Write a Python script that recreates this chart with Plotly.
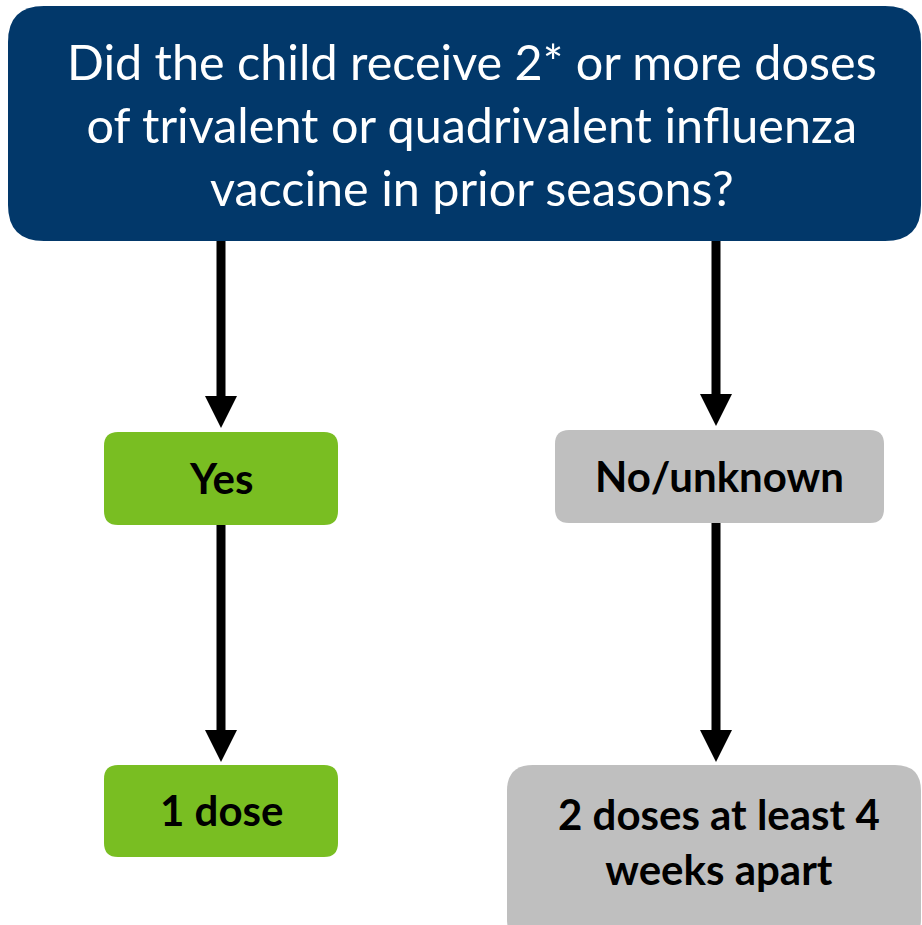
import plotly.graph_objects as go

# ---- content ----
question_lines = ["Did the child receive 2* or more doses",
                  "of trivalent or quadrivalent influenza",
                  "vaccine in prior seasons?"]
answer_labels = ["Yes", "No/unknown"]
outcome_labels = [["1 dose"], ["2 doses at least 4", "weeks apart"]]

# ---- layout geometry (page pixels, y downward) ----
W, H = 922, 925
NAVY = "#02386A"
GREEN = "#79BE22"
GRAY = "#BFBFBF"

top_box = dict(x0=8, y0=6, x1=921, y1=241, r=36, fill=NAVY)
answer_boxes = [dict(x0=104, y0=432, x1=338, y1=525, r=14, fill=GREEN),
                dict(x0=555, y0=430, x1=884, y1=523, r=14, fill=GRAY)]
outcome_boxes = [dict(x0=104, y0=765, x1=338, y1=857, r=14, fill=GREEN),
                 dict(x0=507, y0=765, x1=921, y1=945, r=26, fill=GRAY)]
arrow_x = [221, 716]


def rrect(b):
    x0, y0, x1, y1, r = b["x0"], b["y0"], b["x1"], b["y1"], b["r"]
    return (f"M {x0+r},{y0} L {x1-r},{y0} Q {x1},{y0} {x1},{y0+r} "
            f"L {x1},{y1-r} Q {x1},{y1} {x1-r},{y1} L {x0+r},{y1} "
            f"Q {x0},{y1} {x0},{y1-r} L {x0},{y0+r} Q {x0},{y0} {x0+r},{y0} Z")


shapes = []
for b in [top_box] + answer_boxes + outcome_boxes:
    shapes.append(dict(type="path", path=rrect(b), fillcolor=b["fill"],
                       line=dict(width=0), layer="below"))


def arrow(x, ys, ye, head=32, hw=16):
    base = ye - head
    shapes.append(dict(type="line", x0=x, x1=x, y0=ys, y1=base + 2,
                       line=dict(color="black", width=9)))
    shapes.append(dict(type="path",
                       path=f"M {x-hw},{base} L {x+hw},{base} L {x},{ye} Z",
                       fillcolor="black", line=dict(width=0)))


arrow(arrow_x[0], top_box["y1"], 428)
arrow(arrow_x[1], top_box["y1"], 426)
arrow(arrow_x[0], answer_boxes[0]["y1"], 762)
arrow(arrow_x[1], answer_boxes[1]["y1"], 762)

annotations = []
FONT = "Lato, Calibri, Carlito, sans-serif"
annotations.append(dict(x=(68 + 876) / 2, y=124, xref="x", yref="y",
                        text="<br>".join(question_lines), showarrow=False,
                        font=dict(family=FONT, size=48.5, color="white"),
                        align="center", xanchor="center", yanchor="middle"))
answer_c = [(221, 478), (719, 476)]
for lab, (cx, cy) in zip(answer_labels, answer_c):
    annotations.append(dict(x=cx, y=cy, xref="x", yref="y",
                            text=f"<b>{lab}</b>", showarrow=False,
                            font=dict(family=FONT, size=42, color="black"),
                            xanchor="center", yanchor="middle"))
outcome_c = [(221, 810), (719, 841)]
for labs, (cx, cy) in zip(outcome_labels, outcome_c):
    annotations.append(dict(x=cx, y=cy, xref="x", yref="y",
                            text="<br>".join(f"<b>{l}</b>" for l in labs),
                            showarrow=False, align="center",
                            font=dict(family=FONT, size=42, color="black"),
                            xanchor="center", yanchor="middle"))

fig = go.Figure()
fig.update_layout(width=W, height=H, margin=dict(l=0, r=0, t=0, b=0),
                  paper_bgcolor="white", plot_bgcolor="white",
                  shapes=shapes, annotations=annotations, showlegend=False,
                  xaxis=dict(range=[0, W], visible=False, fixedrange=True),
                  yaxis=dict(range=[H, 0], visible=False, fixedrange=True))
fig.write_html("out.html",
               config={"displayModeBar": False},
               post_script="document.body.style.margin='0';"
                           "document.body.style.overflow='hidden';")
